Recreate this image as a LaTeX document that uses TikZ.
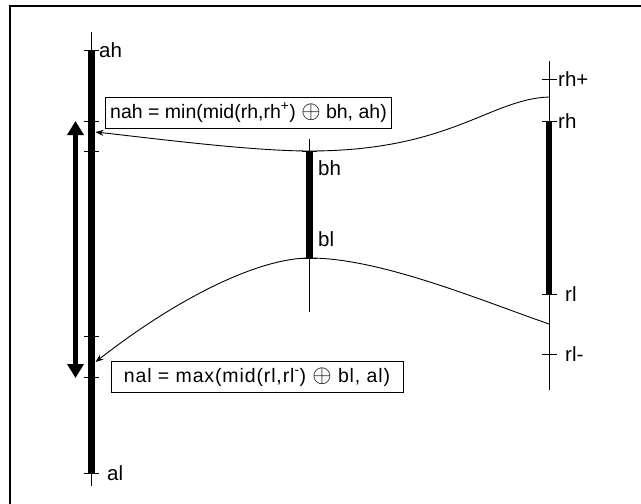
\documentclass[tikz,border=0pt]{standalone}
\usepackage{fontspec}
\setmainfont{Liberation Sans}
\usetikzlibrary{arrows.meta}
\newcommand{\bigop}{{\fontsize{24}{24}\selectfont$\oplus$}}
\tikzset{
  axisline/.style={line width=1pt},
  bar/.style={line width=6.5pt},
  tickline/.style={line width=1pt},
  curve/.style={line width=0.9pt},
  lbl/.style={font=\fontsize{20.5}{22}\selectfont, inner sep=0pt},
  formula/.style={draw, line width=1pt, font=\fontsize{19.5}{21}\selectfont, inner xsep=5pt, minimum height=31pt},
  ptr/.style={curve, -{Stealth[length=8pt,width=6pt]}},
  big/.style={line width=5pt, {Triangle[length=14pt,width=16pt]}-{Triangle[length=14pt,width=16pt]}}
}
\begin{document}
\begin{tikzpicture}[x=1pt,y=-1pt]
\useasboundingbox (0,0) rectangle (641,504);
\draw[line width=2pt] (9.5,5.5) rectangle (645,508);
% left axis
\coordinate (atop) at (91.5,32);
\coordinate (abot) at (91.5,486);
\coordinate (ah) at (91.5,50);
\coordinate (al) at (91.5,473);
\coordinate (at1) at (91.5,121);
\coordinate (at2) at (91.5,151);
\coordinate (at3) at (91.5,336);
\coordinate (at4) at (91.5,377);
\draw[axisline] (atop) -- (abot);
\draw[bar] (ah) -- (al);
\foreach \p in {ah,al,at1,at2,at3,at4} \draw[tickline] ([xshift=-7.5pt]\p) -- ([xshift=7.5pt]\p);
\node[lbl, anchor=west] (lah) at (99,50) {ah};
\node[lbl, anchor=west] (lal) at (107,473) {al};
% middle axis
\coordinate (btop) at (309.5,139);
\coordinate (bbot) at (309.5,312);
\coordinate (bh) at (309.5,151);
\coordinate (bl) at (309.5,258);
\draw[axisline] (btop) -- (bbot);
\draw[bar] (bh) -- (bl);
\foreach \p in {bh,bl} \draw[tickline] ([xshift=-7.5pt]\p) -- ([xshift=7.5pt]\p);
\node[lbl, anchor=west] (lbh) at (318,168) {bh};
\node[lbl, anchor=west] (lbl) at (318,239) {bl};
% right axis
\coordinate (rtop) at (549,61);
\coordinate (rbot) at (549,390);
\coordinate (rhp) at (549,79);
\coordinate (rh) at (549,121);
\coordinate (rl) at (549,294);
\coordinate (rlm) at (549,354);
\draw[axisline] (rtop) -- (rbot);
\draw[bar] (rh) -- (rl);
\foreach \p in {rhp,rh,rl,rlm} \draw[tickline] ([xshift=-7.5pt]\p) -- ([xshift=7.5pt]\p);
\node[lbl, anchor=west] (lrhp) at (558,79) {rh+};
\node[lbl, anchor=west] (lrh) at (558,121) {rh};
\node[lbl, anchor=west] (lrl) at (565,294) {rl};
\node[lbl, anchor=west] (lrlm) at (565,354) {rl-};
% curves
\coordinate (rhmid) at (549,97);
\coordinate (rlmid) at (549,324);
\coordinate (nahpt) at (95.5,132);
\coordinate (nalpt) at (95.5,362);
\draw[ptr] (rhmid) .. controls (490,99) and (450,151) .. (bh) .. controls (250,151) and (150,138) .. (nahpt);
\draw[ptr] (rlmid) .. controls (480,300) and (380,258) .. (bl) .. controls (260,258) and (180,296) .. (nalpt);
% formulas
\node[formula, fill=white] (nah) at (248.5,112.5) {nah = min(mid(rh,rh\textsuperscript{+}) \bigop{} bh, ah)};
\node[formula, fill=white, minimum width=292pt] (nal) at (257,377) {\addfontfeature{LetterSpace=4.5}nal = max(mid(rl,rl\textsuperscript{-}) \bigop{} bl, al)};
% big double arrow
\coordinate (dtop) at (75.5,121);
\coordinate (dbot) at (75.5,378);
\draw[big] (dtop) -- (dbot);
\end{tikzpicture}
\end{document}
